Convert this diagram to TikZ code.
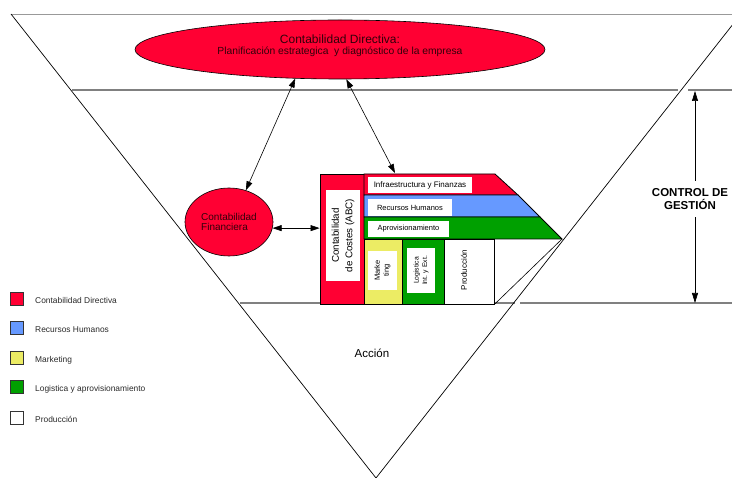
\documentclass[tikz,border=0pt]{standalone}
\usepackage{fontspec}
\setmainfont{Liberation Sans}
\usetikzlibrary{shapes.geometric,arrows.meta}
\definecolor{cred}{RGB}{255,0,51}
\definecolor{cblue}{RGB}{102,153,255}
\definecolor{cyellow}{RGB}{236,236,100}
\definecolor{cgreen}{RGB}{0,160,0}
\definecolor{cgray}{RGB}{128,128,128}
\definecolor{ctxt}{RGB}{40,40,40}
\definecolor{cdark}{RGB}{50,0,10}
\tikzset{
  dbl/.style={{Triangle[length=9pt,width=6pt]}-{Triangle[length=9pt,width=6pt]}, line width=0.6pt},
  ell/.style={ellipse, draw=black, line width=0.6pt, fill=cred, inner sep=0pt},
  blk/.style={draw=black, line width=0.8pt},
  wbox/.style={fill=white, inner sep=0pt, align=center},
  lgsq/.style={draw=black!80, line width=0.6pt, minimum width=13pt, minimum height=13pt, inner sep=0pt},
  lgtxt/.style={anchor=west, inner sep=0pt, text=ctxt, font=\fontsize{8.4}{10}\selectfont},
  hline/.style={draw=cgray, line width=1.6pt},
}
\begin{document}
\begin{tikzpicture}[x=1pt,y=-1pt]
\useasboundingbox (0,0) rectangle (732,478);
% horizontal lines
\draw[draw=cgray!80, line width=0.8pt] (11,14) -- (732,14);
\draw[hline] (72,90) -- (678,90);
\draw[hline] (688,90) -- (732,90);
\draw[hline] (240,303) -- (515,303);
\draw[hline] (520,303) -- (732,303);
% triangle
\draw[line width=0.7pt] (11,14) -- (376,478) -- (741,14);
% building
\node[blk, fill=cred, minimum width=44pt, minimum height=130pt, inner sep=0pt] (costes) at (342,239) {};
\node[wbox, rotate=90, minimum width=91pt, minimum height=34pt, font=\fontsize{9.8}{13.5}\selectfont] (costestxt) at (343,235.5) {Contabilidad\\de Costes (ABC)};
\draw[blk, fill=cred] (364,174) -- (495,174) -- (518,195) -- (364,195) -- cycle;
\draw[blk, fill=cblue] (364,195) -- (518,195) -- (540,217) -- (364,217) -- cycle;
\draw[blk, fill=cgreen] (364,217) -- (540,217) -- (562,239) -- (364,239) -- cycle;
\node[wbox, minimum width=104pt, minimum height=16pt, font=\fontsize{8}{9}\selectfont] (infra) at (420,185) {Infraestructura y Finanzas};
\node[wbox, minimum width=84pt, minimum height=17pt, font=\fontsize{7.5}{9}\selectfont] (rrhh) at (410,207.5) {Recursos Humanos};
\node[wbox, minimum width=81pt, minimum height=16pt, font=\fontsize{7.5}{9}\selectfont] (aprov) at (408.5,229) {Aprovisionamiento};
\node[blk, fill=cyellow, minimum width=38pt, minimum height=65pt, inner sep=0pt] (mkcol) at (383,271.5) {};
\node[blk, fill=cgreen, minimum width=42pt, minimum height=65pt, inner sep=0pt] (lgcol) at (423,271.5) {};
\node[blk, fill=white, minimum width=50pt, minimum height=65pt, inner sep=0pt] (prcol) at (469,271.5) {};
\node[wbox, rotate=90, minimum width=39pt, minimum height=29pt, font=\fontsize{7.5}{9}\selectfont] (mktxt) at (382.5,270.5) {Marke\\ting};
\node[wbox, rotate=90, minimum width=45pt, minimum height=28pt, font=\fontsize{6.8}{8.5}\selectfont] (lgtxtn) at (421,270.5) {Logistica\\Int. y Ext.};
\node[rotate=90, inner sep=0pt, font=\fontsize{8}{10}\selectfont] (prtxt) at (464,270) {Producción};
\draw[line width=0.6pt] (prcol.south east) -- (562,239);
% ellipses
\node[ell, minimum width=410pt, minimum height=59pt] (cd) at (340,49.5) {};
\node[align=center, inner sep=0pt, text=cdark] (cdtxt) at (340,46) {{\fontsize{12}{14}\selectfont Contabilidad Directiva:}\\[-1pt]{\fontsize{10.3}{11}\selectfont Planificación estrategica \ y diagnóstico de la empresa}};
\node[ell, minimum width=88pt, minimum height=68pt, align=center, text=cdark, font=\fontsize{10}{13}\selectfont] (fin) at (229,222) {\raisebox{-3pt}{\shortstack[l]{Contabilidad\\Financiera}}};
% connectors
\coordinate (topband) at (395,173);
\draw[dbl] (fin.62) -- (cd.213.6);
\draw[dbl] (cd.282.8) -- (topband);
\draw[dbl] (fin.352) -- (fin.352 -| costes.west);
% control de gestion
\coordinate (dimtop) at (695,91);
\coordinate (dimbot) at (695,303);
\draw[{Triangle[length=10pt,width=6pt]}-{Triangle[length=10pt,width=6pt]}, line width=0.6pt] (dimtop) -- (dimbot);
\node[fill=white, align=center, inner xsep=0pt, minimum height=36pt, font=\fontsize{11.5}{12.5}\selectfont\bfseries] (ctrl) at (690,199) {CONTROL DE\\GESTIÓN};
% accion
\node[font=\fontsize{11.5}{13}\selectfont, inner sep=0pt] (accion) at (372,353) {Acción};
% legend
\node[lgsq, fill=cred] (sq1) at (16.5,298.5) {};
\node[lgsq, fill=cblue] (sq2) at (16.5,328) {};
\node[lgsq, fill=cyellow] (sq3) at (16.5,358) {};
\node[lgsq, fill=cgreen] (sq4) at (16.5,387) {};
\node[lgsq, fill=white] (sq5) at (16.5,417.5) {};
\node[lgtxt] (t1) at (35,300.5) {Contabilidad Directiva};
\node[lgtxt] (t2) at (35,330) {Recursos Humanos};
\node[lgtxt] (t3) at (35,360) {Marketing};
\node[lgtxt] (t4) at (35,389) {Logistica y aprovisionamiento};
\node[lgtxt] (t5) at (35,419.5) {Producción};
\end{tikzpicture}
\end{document}
